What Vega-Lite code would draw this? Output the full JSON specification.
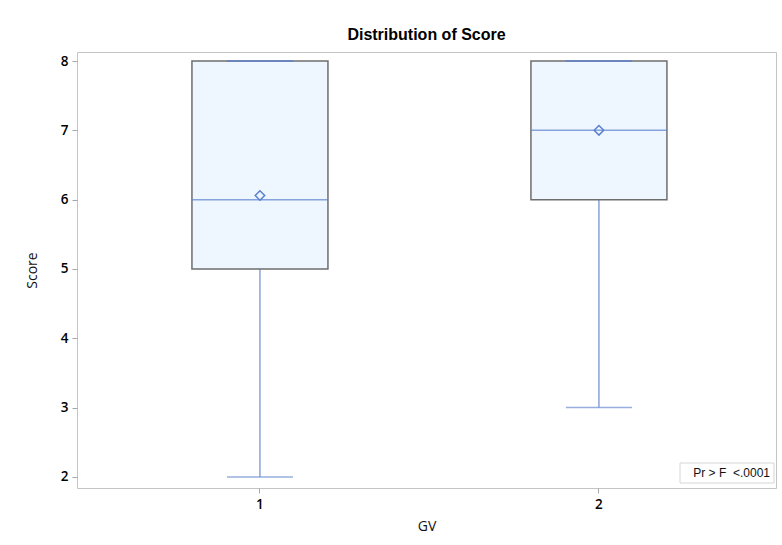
{
  "$schema": "https://vega.github.io/schema/vega-lite/v6.json",
  "width": 699,
  "height": 436,
  "autosize": {"type": "none"},
  "padding": {"left": 77, "top": 52, "right": 6, "bottom": 57},
  "background": "white",
  "title": {"text": "Distribution of Score", "font": "Liberation Sans", "fontSize": 16, "fontWeight": "bold", "color": "#000000", "anchor": "middle", "offset": 9},
  "config": {
    "view": {"stroke": "#c4c4c4", "strokeWidth": 1},
    "axis": {"labelFont": "Open Sans", "titleFont": "Open Sans", "labelFontSize": 13.5, "titleFontSize": 14, "labelColor": "#000000", "titleColor": "#111111", "labelFontWeight": 600, "titleFontWeight": "normal", "tickColor": "#a8a8a8", "tickSize": 5, "domain": false, "grid": false}
  },
  "layer": [
    {
      "data": {"values": [
        {"GV": "1", "min": 2, "q1": 5, "median": 6, "q3": 8, "max": 8, "mean": 6.06},
        {"GV": "2", "min": 3, "q1": 6, "median": 7, "q3": 8, "max": 8, "mean": 7.0}
      ]},
      "encoding": {
        "x": {"field": "GV", "type": "ordinal", "title": "GV",
          "scale": {"type": "band", "domain": ["1", "2"], "paddingInner": 0, "paddingOuter": 0.031, "align": 0.64},
          "axis": {"labelAngle": 0, "labelPadding": 4, "titlePadding": 9}}
      },
      "layer": [
        {
          "mark": {"type": "rule", "color": "#6b8bd2", "strokeWidth": 1.2},
          "encoding": {
            "y": {"field": "min", "type": "quantitative", "title": "Score",
              "scale": {"domain": [1.84, 8.13], "nice": false, "zero": false},
              "axis": {"values": [2, 3, 4, 5, 6, 7, 8], "format": "d", "labelPadding": 4, "titlePadding": 21}},
            "y2": {"field": "q1"}
          }
        },
        {
          "mark": {"type": "bar", "size": 136, "fill": "#eef7ff", "stroke": "#6e6e6e", "strokeWidth": 1.5},
          "encoding": {
            "y": {"field": "q1", "type": "quantitative"},
            "y2": {"field": "q3"}
          }
        },
        {
          "mark": {"type": "tick", "size": 66, "thickness": 1.5, "color": "#6b8bd2"},
          "encoding": {"y": {"field": "min", "type": "quantitative"}}
        },
        {
          "mark": {"type": "tick", "size": 66, "thickness": 2, "color": "#5b7fcf"},
          "encoding": {"y": {"field": "max", "type": "quantitative"}}
        },
        {
          "mark": {"type": "tick", "size": 136, "thickness": 1.5, "color": "#5b7fcf"},
          "encoding": {"y": {"field": "median", "type": "quantitative"}}
        },
        {
          "mark": {"type": "point", "shape": "diamond", "filled": false, "size": 90, "stroke": "#5b7fcf", "strokeWidth": 1.5, "opacity": 1},
          "encoding": {"y": {"field": "mean", "type": "quantitative"}}
        }
      ]
    },
    {
      "data": {"values": [{"label": "Pr > F\u00a0\u00a0<.0001"}]},
      "layer": [
        {
          "mark": {"type": "rect", "x": {"expr": "width - 96"}, "x2": {"expr": "width - 2"}, "y": {"expr": "height - 25"}, "y2": {"expr": "height - 5"}, "fill": "white", "stroke": "#d6d6d6", "strokeWidth": 1},
          "encoding": {}
        },
        {
          "mark": {"type": "text", "x": {"expr": "width - 6"}, "y": {"expr": "height - 15"}, "align": "right", "baseline": "middle", "font": "Liberation Sans", "fontSize": 12, "color": "#111111"},
          "encoding": {"text": {"field": "label"}}
        }
      ]
    }
  ]
}
